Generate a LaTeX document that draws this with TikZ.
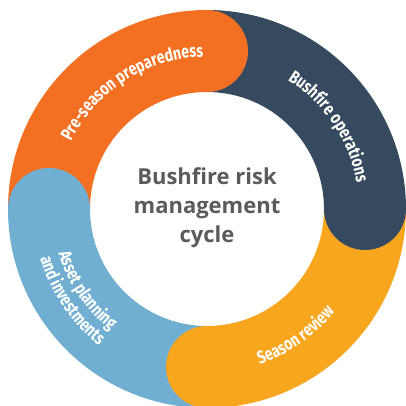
\documentclass[tikz,border=0pt]{standalone}
\usepackage{fontspec}
\usetikzlibrary{decorations.text}

\newfontfamily\titlefont{Open Sans}
\newfontfamily\labelfont[FakeStretch=0.78]{Fira Sans}

\definecolor{prepOrange}{HTML}{F37022}
\definecolor{opsNavy}{HTML}{354A5F}
\definecolor{reviewYellow}{HTML}{F8A61E}
\definecolor{assetBlue}{HTML}{70AED2}
\definecolor{titleGray}{HTML}{5A5B5D}

\begin{document}
\begin{tikzpicture}[
    every node/.style={font=\titlefont\bfseries},
    ringtext/.style={decorate, decoration={text along path, text align=center,
        text color=white, text={|\labelfont\bfseries\fontsize{18}{20}\selectfont|#1}}}
  ]
  \useasboundingbox (-207pt,-197pt) rectangle (198pt,209pt);

  % ring sectors: inner radius 117pt, outer 199pt
  \fill[prepOrange]   (90:117pt)  arc (90:180:117pt)  -- (180:199pt) arc (180:90:199pt)  -- cycle;
  \fill[opsNavy]      (0:117pt)   arc (0:90:117pt)    -- (90:199pt)  arc (90:0:199pt)    -- cycle;
  \fill[reviewYellow] (-90:117pt) arc (-90:0:117pt)   -- (0:199pt)   arc (0:-90:199pt)   -- cycle;
  \fill[assetBlue]    (180:117pt) arc (180:270:117pt) -- (270:199pt) arc (270:180:199pt) -- cycle;

  % rounded heads running into the next stage
  \fill[prepOrange]   (90:158pt)  circle (41pt);
  \fill[opsNavy]      (0:158pt)   circle (41pt);
  \fill[reviewYellow] (-90:158pt) circle (41pt);
  \fill[assetBlue]    (180:158pt) circle (41pt);

  % stage labels
  \path[ringtext={Pre-season preparedness}] (175:152pt) arc (175:70:152pt);
  \path[ringtext={Bushfire operations}]     (70:152pt)  arc (70:-2:152pt);
  \path[ringtext={Season review}]           (-85:164pt) arc (-85:-25:164pt);
  \path[ringtext={Asset planning}]          (184:155pt) arc (184:244:155pt);
  \path[ringtext={and investments}]         (184:174pt) arc (184:244:174pt);

  \node[titleGray, align=center, font=\titlefont\bfseries\fontsize{22}{29}\selectfont]
    (title) at (0,1pt) {Bushfire risk\\management\\cycle};
\end{tikzpicture}
\end{document}
